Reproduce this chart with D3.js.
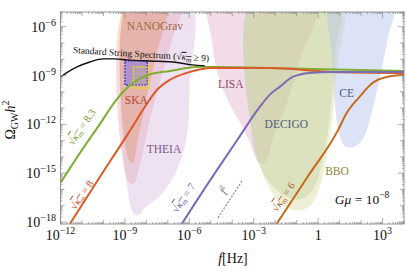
<!DOCTYPE html>
<html><head><meta charset="utf-8">
<script src="https://cdn.jsdelivr.net/npm/d3@7"></script>
<style>body{margin:0;background:#fff} svg{display:block} text{font-family:"Liberation Serif","DejaVu Serif",serif}</style>
</head><body><svg id="c" width="407" height="270"></svg>
<script>
// All values are log10(f / Hz) and log10(Omega_GW h^2)
const xTickExps = [-12, -9, -6, -3, 0, 3];
const yTickExps = [-18, -15, -12, -9, -6];

const standardString = [[-12,-9.09],[-11.65,-8.78],[-11.23,-8.47],[-10.63,-8.17],[-10.02,-7.98],[-9.47,-7.98],[-8.91,-8.04],[-7.84,-8.11],[-6.77,-8.17],[-5.84,-8.35],[-5.28,-8.41]];
const km83 = [[-12,-15.59],[-11.09,-13.75],[-10.16,-11.97],[-9.47,-10.62],[-9.0,-9.89],[-8.63,-9.46],[-7.93,-8.97],[-6.91,-8.72],[-5.51,-8.47],[-2.26,-8.54],[4,-8.72]];
const km8 = [[-11.56,-18.11],[-10.16,-15.22],[-8.77,-12.4],[-8.16,-11.11],[-7.51,-9.89],[-6.91,-9.27],[-6.12,-8.84],[-4.91,-8.54],[-2.26,-8.54],[0.67,-8.78],[4,-8.84]];
const km7 = [[-6.35,-18.11],[-5.05,-15.47],[-3.79,-13.01],[-2.72,-10.93],[-2.26,-10.19],[-1.79,-9.7],[-1.19,-9.09],[-0.4,-8.84],[0.67,-8.78],[4,-8.78]];
const km6 = [[-1.93,-18.11],[-0.49,-15.22],[0.91,-12.4],[1.33,-11.3],[1.93,-10.31],[2.53,-9.46],[3.19,-9.09],[4,-8.97]];
const fSquared = [[-4.67,-17.74],[-3.51,-15.41]];

const ska = [[-8.86,-4.3],[-8.86,-15.5],[-8.6,-15.65],[-8.3,-14.5],[-7.84,-11.73],[-7.28,-8.97],[-6.81,-6.82],[-6.35,-4.3]];
const nanograv = [[-8.81,-4.3],[-8.81,-14.2],[-8.63,-14.36],[-8.4,-12.95],[-8.07,-10.81],[-7.6,-8.04],[-7.09,-4.3]];
const theia = [[-8.63,-4.3],[-8.63,-17.4],[-8.4,-17.6],[-8.07,-17.12],[-7.23,-16.2],[-6.44,-14.36],[-6.07,-12.34],[-6.0,-9.89],[-5.98,-4.3]];
const lisa = [[-5.05,-4.3],[-4.95,-6.82],[-4.67,-8.97],[-4.21,-10.5],[-3.65,-11.85],[-3.33,-12.65],[-3.05,-13.57],[-2.81,-14.3],[-2.55,-14.45],[-2.3,-13.9],[-2.12,-12.95],[-1.56,-11.11],[-0.86,-8.04],[-0.07,-4.3]];
const decigo = [[-3.05,-4.3],[-3.05,-12.95],[-2.91,-13.87],[-2.63,-14.79],[-2.16,-15.71],[-1.56,-16.39],[-0.95,-16.63],[-0.49,-16.39],[-0.12,-15.71],[0.16,-14.49],[0.40,-12.95],[0.63,-10.5],[0.81,-7.43],[1.0,-4.3]];
const bbo = [[-2.91,-4.3],[-2.91,-13.26],[-2.72,-14.49],[-2.35,-15.71],[-1.79,-16.82],[-1.19,-17.25],[-0.58,-17.19],[-0.15,-16.63],[0.1,-15.71],[0.33,-14.49],[0.6,-12.34],[0.86,-8.66],[1.05,-4.3]];
const ce = [[0.63,-4.3],[0.67,-8.04],[0.81,-11.11],[1.0,-12.65],[1.28,-13.38],[1.7,-13.38],[2.12,-12.83],[2.53,-11.11],[2.95,-8.66],[3.23,-6.82],[3.51,-4.3]];
const blueBox = {f: [-9.0, -7.96], o: [-9.58, -8.09]};
const yellowBox = {f: [-8.61, -7.87], o: [-9.78, -8.46]};

const regionLabels = [
  {t: "NANOGrav", f: -7.6, o: -6.22, c: "#a06a3c"},
  {t: "SKA", f: -8.47, o: -10.78, c: "#b5442f"},
  {t: "THEIA", f: -7.18, o: -13.75, c: "#7a5a84"},
  {t: "LISA", f: -4.07, o: -9.76, c: "#8e4c6c"},
  {t: "DECIGO", f: -1.48, o: -12.22, c: "#4c5c7c"},
  {t: "CE", f: 1.33, o: -10.33, c: "#4c5a8c"},
  {t: "BBO", f: 0.88, o: -15.1, c: "#8c8a3c"}
];

const svg = d3.select("#c");
const L = 60.5, R = 404, T = 12, B = 224;
const x = d3.scaleLog().domain([1e-12, 1e4]).range([L, R]);
const y = d3.scaleLog().domain([Math.pow(10, -18.12), Math.pow(10, -5.1)]).range([B, T]);
const px = d => x(Math.pow(10, d[0]));
const py = d => y(Math.pow(10, d[1]));

svg.append("clipPath").attr("id", "clip").append("rect").attr("x", L).attr("y", T).attr("width", R - L).attr("height", B - T);
const g = svg.append("g").attr("clip-path", "url(#clip)");

const area = d3.line().x(px).y(py).curve(d3.curveCatmullRomClosed.alpha(0.5));
const regions = [
  [ska, "#eaa4a4", 0.4],
  [nanograv, "#eb9c5c", 0.6],
  [theia, "#d2b0dc", 0.38],
  [lisa, "#dca4c0", 0.38],
  [decigo, "#b2cc98", 0.45],
  [bbo, "#d8d8a2", 0.42],
  [ce, "#b6c4ee", 0.48]
];
regions.forEach(([d, c, o]) => g.append("path").attr("d", area(d)).attr("fill", c).attr("fill-opacity", o));

function box(b, fill, fo, stroke) {
  g.append("rect")
    .attr("x", x(Math.pow(10, b.f[0]))).attr("y", y(Math.pow(10, b.o[1])))
    .attr("width", x(Math.pow(10, b.f[1])) - x(Math.pow(10, b.f[0])))
    .attr("height", y(Math.pow(10, b.o[0])) - y(Math.pow(10, b.o[1])))
    .attr("fill", fill).attr("fill-opacity", fo)
    .attr("stroke", stroke).attr("stroke-width", 1.4).attr("stroke-dasharray", "1.5,1.5");
}
box(blueBox, "#6a6af0", 0.45, "#2020e0");
box(yellowBox, "#d8c860", 0.25, "#f4e000");

const line = d3.line().x(px).y(py).curve(d3.curveMonotoneX);
const curves = [
  [km83, "#7fae33", 2],
  [km8, "#dc5a2a", 2],
  [km7, "#7a6cb4", 2],
  [km6, "#c46a1c", 2],
  [standardString, "#111", 1.4]
];
curves.forEach(([d, c, w]) => g.append("path").attr("d", line(d)).attr("fill", "none").attr("stroke", c).attr("stroke-width", w));
g.append("path").attr("d", d3.line().x(px).y(py)(fSquared)).attr("fill", "none").attr("stroke", "#888").attr("stroke-width", 1.2).attr("stroke-dasharray", "2,1.5");

// frame
svg.append("rect").attr("x", L).attr("y", T).attr("width", R - L).attr("height", B - T).attr("fill", "none").attr("stroke", "#8a8a8a").attr("stroke-width", 0.9);

// ticks
const tk = svg.append("g").attr("stroke", "#8a8a8a").attr("stroke-width", 0.7);
for (let d = -12; d <= 4; d++) {
  for (let m = 1; m <= 9; m++) {
    const v = m * Math.pow(10, d);
    if (v > 1e4 * 1.0001) continue;
    const X = x(v);
    const len = m === 1 ? (xTickExps.includes(d) ? 6 : 4) : 2;
    tk.append("line").attr("x1", X).attr("x2", X).attr("y1", B).attr("y2", B - len);
    tk.append("line").attr("x1", X).attr("x2", X).attr("y1", T).attr("y2", T + len);
  }
}
for (let d = -19; d <= -6; d++) {
  for (let m = 1; m <= 9; m++) {
    const v = m * Math.pow(10, d);
    const Y = y(v);
    if (Y > B + 0.1 || Y < T - 0.1) continue;
    const len = m === 1 ? (yTickExps.includes(d) ? 6 : 4) : 2;
    tk.append("line").attr("x1", L).attr("x2", L + len).attr("y1", Y).attr("y2", Y);
    tk.append("line").attr("x1", R).attr("x2", R - len).attr("y1", Y).attr("y2", Y);
  }
}
const minus = "\u2212";
xTickExps.forEach(e => {
  const t = svg.append("text").attr("x", x(Math.pow(10, e))).attr("y", 239.5).attr("text-anchor", "middle").attr("font-size", 14).attr("fill", "#111");
  if (e === 0) { t.text("1"); return; }
  t.append("tspan").text("10");
  t.append("tspan").attr("dy", -6).attr("font-size", 10).text((e < 0 ? minus : "") + Math.abs(e));
});
yTickExps.forEach(e => {
  const t = svg.append("text").attr("x", 56).attr("y", y(Math.pow(10, e)) + 5).attr("text-anchor", "end").attr("font-size", 14).attr("fill", "#111");
  t.append("tspan").text("10");
  t.append("tspan").attr("dy", -6).attr("font-size", 10).text(minus + Math.abs(e));
});

// axis titles
const yt = svg.append("text").attr("transform", "translate(15,120) rotate(-90)").attr("text-anchor", "middle").attr("font-size", 14).attr("fill", "#111");
yt.append("tspan").text("\u03A9");
yt.append("tspan").attr("dy", 3).attr("font-size", 10).text("GW");
yt.append("tspan").attr("dy", -3).attr("font-style", "italic").text("h");
yt.append("tspan").attr("dy", -6).attr("font-size", 10).text("2");
const xt = svg.append("text").attr("x", 233).attr("y", 263).attr("text-anchor", "middle").attr("font-size", 14).attr("fill", "#111");
xt.append("tspan").attr("font-style", "italic").text("f");
xt.append("tspan").text("[Hz]");

const gm = svg.append("text").attr("x", 362).attr("y", 204).attr("text-anchor", "middle").attr("font-size", 13.5).attr("fill", "#111");
gm.append("tspan").attr("font-style", "italic").text("G\u03BC");
gm.append("tspan").text(" = 10");
gm.append("tspan").attr("dy", -6).attr("font-size", 9.5).text(minus + "8");

regionLabels.forEach(r => {
  svg.append("text").attr("x", x(Math.pow(10, r.f))).attr("y", y(Math.pow(10, r.o))).attr("text-anchor", "middle").attr("font-size", 11.5).attr("fill", r.c).text(r.t);
});

function kappa(t, fs) {
  t.append("tspan").text("\u221A");
  const ov = t.append("tspan").attr("text-decoration", "overline");
  ov.append("tspan").attr("font-style", "italic").text("\u03BA");
  ov.append("tspan").attr("font-size", fs * 0.7).attr("dy", 2).text("m");
}
function kmLabel(f, o, angle, txt, color, fs) {
  const t = svg.append("text").attr("transform", `translate(${x(Math.pow(10, f))},${y(Math.pow(10, o))}) rotate(${angle})`)
    .attr("text-anchor", "middle").attr("font-size", fs).attr("fill", color).attr("dominant-baseline", "middle");
  kappa(t, fs);
  t.append("tspan").attr("dy", -2).text(txt);
}
kmLabel(-10.95, -12.22, -56, " = 8.3", "#6f9e2c", 10.5);
kmLabel(-10.95, -16.39, -56, " = 8", "#c9502c", 10.5);
kmLabel(-6.21, -16.57, -56, " = 7", "#6c62a4", 10.5);
kmLabel(-1.56, -16.51, -56, " = 6", "#a8602a", 10.5);

const f2 = svg.append("text").attr("transform", `translate(${x(Math.pow(10, -4.25))},${y(Math.pow(10, -16.14))}) rotate(-60)`).attr("text-anchor", "middle").attr("font-size", 10).attr("fill", "#555");
f2.append("tspan").attr("font-style", "italic").text("f");
f2.append("tspan").attr("dy", -4).attr("font-size", 7).text("2");

const ss = svg.append("text").attr("transform", `translate(${x(Math.pow(10, -11.43))},${y(Math.pow(10, -7.62))}) rotate(3.5)`).attr("font-size", 9.5).attr("fill", "#111");
ss.append("tspan").text("Standard String Spectrum (");
kappa(ss, 9.5);
ss.append("tspan").attr("dy", -2).text(" \u2265 9)");
</script></body></html>
